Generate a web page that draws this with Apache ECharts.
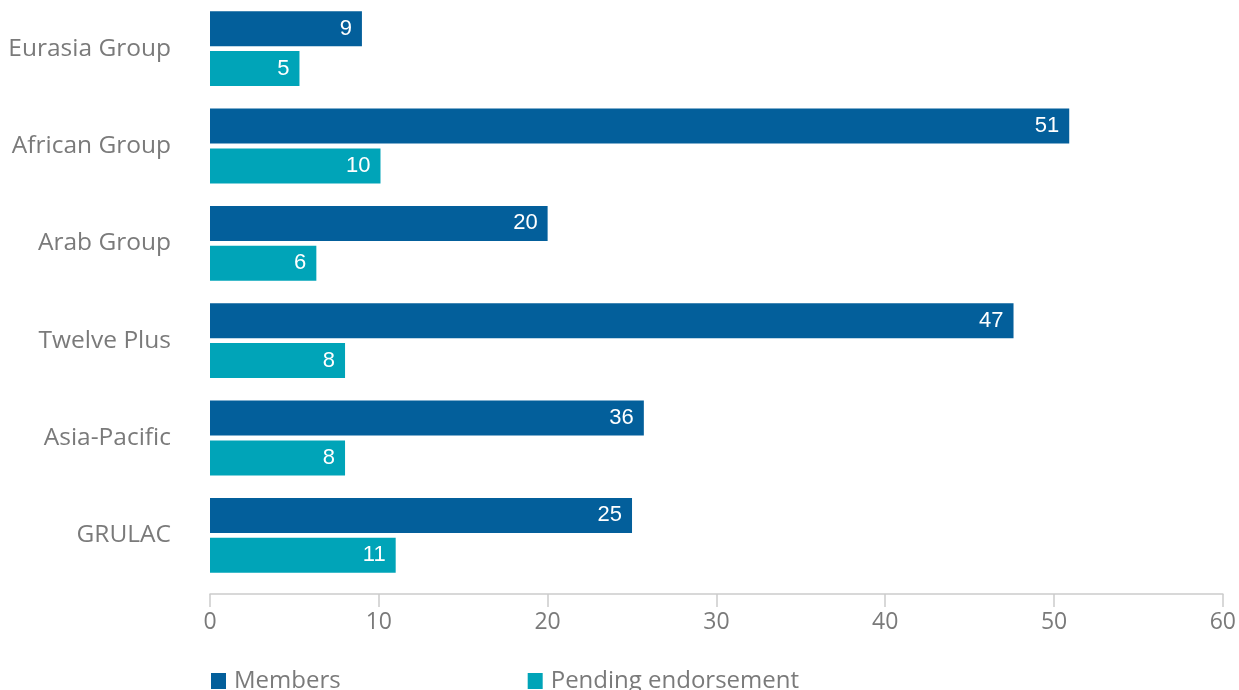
<!DOCTYPE html>
<html>
<head>
<meta charset="utf-8">
<script src="https://cdn.jsdelivr.net/npm/echarts@6/dist/echarts.min.js"></script>
<style>
html,body{margin:0;padding:0;background:#fff;}
#chart{width:1239px;height:690px;}
</style>
</head>
<body>
<div id="chart"></div>
<script>
const categories = ['Eurasia Group','African Group','Arab Group','Twelve Plus','Asia-Pacific','GRULAC'];
const seriesNames = ['Members','Pending endorsement'];
// bar lengths as drawn in the reference
const membersBars = [9, 50.9, 20, 47.6, 25.7, 25];
const pendingBars = [5.3, 10.1, 6.3, 8, 8, 11];
// printed labels
const membersLabels = [9, 51, 20, 47, 36, 25];
const pendingLabels = [5, 10, 6, 8, 8, 11];
const xTicks = [0, 10, 20, 30, 40, 50, 60];

const font = '"Open Sans", "Liberation Sans", sans-serif';
const labelFont = '"Liberation Sans", Arial, sans-serif';
const chart = echarts.init(document.getElementById('chart'));
function labelFor(arr){
  return {show:true, position:'insideRight', distance:10, color:'#fff', fontSize:22, fontFamily:labelFont,
    formatter: p => String(arr[p.dataIndex])};
}
chart.setOption({
  animation:false,
  textStyle:{fontFamily:font},
  grid:{left:210, right:16, top:0, height:584},
  legend:{
    left:206, top:664, itemWidth:15, itemHeight:16, itemGap:187, icon:'rect',
    textStyle:{fontSize:24, color:'#7a7a7a', fontFamily:font, padding:[0,0,0,3]},
    data:seriesNames
  },
  xAxis:{
    type:'value', min:xTicks[0], max:xTicks[xTicks.length-1], interval:10, offset:10,
    axisLine:{show:true, lineStyle:{color:'#ccc', width:1.5}},
    axisTick:{show:true, inside:false, length:13, lineStyle:{color:'#ccc', width:1.5}},
    axisLabel:{fontSize:23, color:'#7a7a7a', margin:17, fontFamily:font},
    splitLine:{show:false}
  },
  yAxis:{
    type:'category', data:categories, inverse:true,
    axisLine:{show:false}, axisTick:{show:false},
    axisLabel:{fontSize:24.5, color:'#7a7a7a', margin:39, fontFamily:font}
  },
  series:[
    {name:seriesNames[0], type:'bar', data:membersBars, barWidth:35, barGap:'14%',
     itemStyle:{color:'#035f9b'}, label:labelFor(membersLabels)},
    {name:seriesNames[1], type:'bar', data:pendingBars, barWidth:35, barGap:'14%',
     itemStyle:{color:'#00a4b8'}, label:labelFor(pendingLabels)}
  ]
});
</script>
</body>
</html>
